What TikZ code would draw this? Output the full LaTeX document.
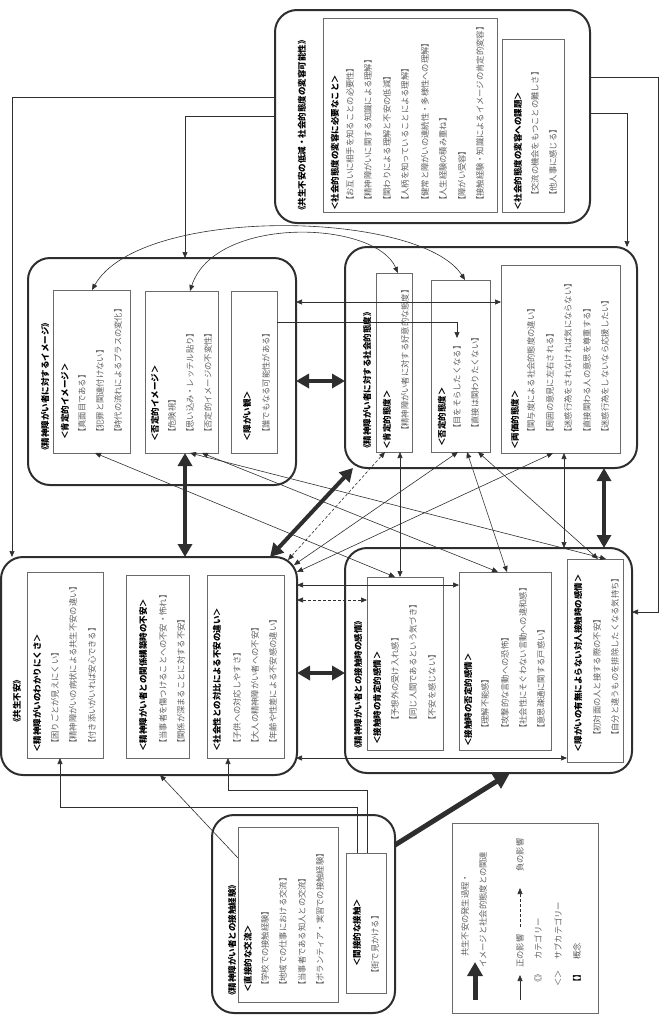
\documentclass[tikz,border=0pt]{standalone}
\usepackage{fontspec}
\setmainfont{Noto Sans CJK JP}
\usetikzlibrary{arrows.meta}
\definecolor{ink}{HTML}{2E2E2E}
\definecolor{txtg}{HTML}{5E5E5E}
\definecolor{ibd}{HTML}{6A6A6A}
\newcommand\mkbox[6]{\node[#1,minimum width={(#4)-(#2)},minimum height={(#5)-(#3)}] (#6) at ({((#2)+(#4))/2},{((#3)+(#5))/2}) {};}
\begin{document}
\begin{tikzpicture}[x=1pt,y=-1pt,
 obox/.style={draw=ink,line width=2pt,rounded corners=22pt,inner sep=0pt,outer sep=0pt},
 ibox/.style={draw=ibd,line width=0.8pt,inner sep=0pt,outer sep=0pt},
 ttl/.style={rotate=90,anchor=west,inner sep=0pt,font=\bfseries\fontsize{8.5}{10}\selectfont,text=black},
 subt/.style={ttl},
 conc/.style={rotate=90,anchor=west,inner sep=0pt,font=\fontsize{8.3}{10}\selectfont,text=txtg},
 ln/.style={draw=ink,line width=0.6pt},
 la/.style={-{Triangle[length=6pt,width=5pt]}},
 lb/.style={{Triangle[length=6pt,width=5pt]}-{Triangle[length=6pt,width=5pt]}},
 thk/.style={draw=ink,line width=4pt,{Triangle[length=13pt,width=14pt]}-{Triangle[length=13pt,width=14pt]}},
 thk1/.style={draw=ink,line width=5pt,-{Triangle[length=16pt,width=16pt]}}]
\useasboundingbox (0,0) rectangle (664,1031);

% ---------- outer boxes
\mkbox{obox}{275}{10}{590}{223}{A}
\mkbox{obox}{345}{247}{637}{468}{B}
\mkbox{obox}{28}{258}{296}{485}{C}
\mkbox{obox}{1}{557}{297}{775}{D}
\mkbox{obox}{345}{548}{632}{773}{E}
\mkbox{obox}{212}{815}{395}{1013}{F}
% ---------- inner boxes
\mkbox{ibox}{323}{18}{497}{212}{A1}
\mkbox{ibox}{502}{39}{564}{212}{A2}
\mkbox{ibox}{376}{273}{412}{452}{B1}
\mkbox{ibox}{431}{280}{490}{452}{B2}
\mkbox{ibox}{501}{265}{620}{453}{B3}
\mkbox{ibox}{53}{290}{130}{453}{C1}
\mkbox{ibox}{145}{291}{218}{453}{C2}
\mkbox{ibox}{231}{291}{277}{453}{C3}
\mkbox{ibox}{27}{572}{103}{758}{D1}
\mkbox{ibox}{126}{575}{189}{758}{D2}
\mkbox{ibox}{207}{575}{284}{758}{D3}
\mkbox{ibox}{367}{577}{443}{750}{E1}
\mkbox{ibox}{459}{572}{551}{750}{E2}
\mkbox{ibox}{567}{559}{623}{762}{E3}
\mkbox{ibox}{238}{827}{338}{1002}{F1}
\mkbox{ibox}{346}{853}{386}{993}{F2}
\mkbox{ibox}{452}{823}{598}{1013}{LG}

% ---------- texts A
\node[ttl] (At) at (302,215) {《共生不安の低減・社会的態度の変容可能性》};
\node[subt] (A1s) at (335,211) {＜社会的態度の変容に必要なこと＞};
\foreach \x/\t [count=\i] in {350/【お互いに相手を知ることの必要性】,368/【精神障がいに関する知識による理解】,387/【関わりによる理解と不安の低減】,405/【人柄を知っていることによる理解】,425/【健常と障がいの連続性・多様性への理解】,443/【人生経験の積み重ね】,462/【障がい受容】,480/【接触経験・知識によるイメージの肯定的変容】}
  \node[conc] (A1c\i) at (\x,205) {\t};
\node[subt] (A2s) at (518,211) {＜社会的態度の変容への課題＞};
\foreach \x/\t [count=\i] in {535/【交流の機会をもつことの難しさ】,553/【他人事に感じる】}
  \node[conc] (A2c\i) at (\x,200) {\t};

% ---------- texts B
\node[ttl] (Bt) at (367,453) {《精神障がい者に対する社会的態度》};
\node[subt] (B1s) at (387,450) {＜肯定的態度＞};
\node[conc] (B1c1) at (405,435) {【精神障がい者に対する好意的な態度】};
\node[subt] (B2s) at (442,447) {＜否定的態度＞};
\foreach \x/\t [count=\i] in {457/【目をそらしたくなる】,475/【直接は関わりたくない】}
  \node[conc] (B2c\i) at (\x,433) {\t};
\node[subt] (B3s) at (515,450) {＜両価的態度＞};
\foreach \x/\t [count=\i] in {531/【関与度による社会的態度の違い】,550/【周囲の意見に左右される】,568/【迷惑行為をされなければ気にならない】,587/【直接関わる人の意思を尊重する】,605/【迷惑行為をしないなら応援したい】}
  \node[conc] (B3c\i) at (\x,437) {\t};

% ---------- texts C
\node[ttl] (Ct) at (45,455) {《精神障がい者に対するイメージ》};
\node[subt] (C1s) at (65,440) {＜肯定的イメージ＞};
\foreach \x/\t [count=\i] in {82/【真面目である】,100/【犯罪と関連付けない】,118/【時代の流れによるプラスの変化】}
  \node[conc] (C1c\i) at (\x,437) {\t};
\node[subt] (C2s) at (155,442) {＜否定的イメージ＞};
\foreach \x/\t [count=\i] in {172/【危険視】,190/【思い込み・レッテル貼り】,208/【否定的イメージの不変性】}
  \node[conc] (C2c\i) at (\x,437) {\t};
\node[subt] (C3s) at (247,442) {＜障がい観＞};
\node[conc] (C3c1) at (266,437) {【誰でもなる可能性がある】};

% ---------- texts D
\node[ttl] (Dt) at (17,727) {《共生不安》};
\node[subt] (D1s) at (37,753) {＜精神障がいのわかりにくさ＞};
\foreach \x/\t [count=\i] in {55/【困りごとが見えにくい】,73/【精神障がいの病状による共生不安の違い】,92/【付き添いがいれば安心できる】}
  \node[conc] (D1c\i) at (\x,748) {\t};
\node[subt] (D2s) at (143,752) {＜精神障がい者との関係構築時の不安＞};
\foreach \x/\t [count=\i] in {163/【当事者を傷つけることへの不安・怖れ】,181/【関係が深まることに対する不安】}
  \node[conc] (D2c\i) at (\x,748) {\t};
\node[subt] (D3s) at (217,752) {＜社会性との対比による不安の違い＞};
\foreach \x/\t [count=\i] in {237/【子供への対応しやすさ】,255/【大人の精神障がい者への不安】,273/【年齢や性差による不安感の違い】}
  \node[conc] (D3c\i) at (\x,748) {\t};

% ---------- texts E
\node[ttl] (Et) at (358,753) {《精神障がい者との接触時の感情》};
\node[subt] (E1s) at (377,745) {＜接触時の肯定的感情＞};
\foreach \x/\t [count=\i] in {395/【予想外の受け入れ感】,413/【同じ人間であるという気づき】,432/【不安を感じない】}
  \node[conc] (E1c\i) at (\x,725) {\t};
\node[subt] (E2s) at (468,747) {＜接触時の否定的感情＞};
\foreach \x/\t [count=\i] in {485/【理解不能感】,505/【攻撃的な言動への恐怖】,523/【社会性にそぐわない言動への違和感】,541/【意思疎通に関する戸惑い】}
  \node[conc] (E2c\i) at (\x,733) {\t};
\node[subt] (E3s) at (578,753) {＜障がいの有無によらない対人接触時の感情＞};
\foreach \x/\t [count=\i] in {597/【初対面の人と接する際の不安】,615/【自分と違うものを排除したくなる気持ち】}
  \node[conc] (E3c\i) at (\x,740) {\t};

% ---------- texts F
\node[ttl] (Ft) at (232,1000) {《精神障がい者との接触経験》};
\node[subt] (F1s) at (248,993) {＜直接的な交流＞};
\foreach \x/\t [count=\i] in {265/【学校での接触経験】,283/【地域での仕事における交流】,302/【当事者である知人との交流】,320/【ボランティア・実習での接触経験】}
  \node[conc] (F1c\i) at (\x,990) {\t};
\node[subt] (F2s) at (357,967) {＜間接的な接触＞};
\node[conc] (F2c1) at (375,978) {【街で見かける】};

% ---------- connectors from A
\draw[ln,la] (A.west |- 0,97) -| (12,0 |- D.north);
\draw[ln,la] (A.west |- 0,116) -| (185,0 |- C.north);
\coordinate (ar) at (658,612);
\draw[ln,la] (A.east |- 0,77) -| (ar) -- (E.east |- ar);
\draw[ln,la] (A.east |- 0,113) -| (627,0 |- B.north);

% ---------- curves C <-> B
\draw[ln,lb] (92,0 |- C1.north) .. controls (140,205) and (420,210) .. (465,0 |- B2.north);
\draw[ln,lb] (190,0 |- C2.north) .. controls (215,215) and (375,220) .. (398,0 |- B1.north);

% ---------- C <-> B
\draw[ln,lb] (C.east |- 0,302) -- (B3.west |- 0,302);
\coordinate (b2in) at (457,338);
\draw[ln,la] (C3.east |- 0,322) -| (b2in);
\draw[thk] (C.east |- 0,381) -- (B.west |- 0,381);
\draw[thk] (185,0 |- C2.south) -- (185,0 |- D.north);

% ---------- D <-> B
\draw[thk] (270,0 |- D.north) -- (353,0 |- B.south);
\coordinate (dk1) at (288,560);
\coordinate (dk2) at (294,565);
\coordinate (dk3) at (297,572);
\draw[ln,lb,dash pattern=on 3pt off 2pt] (dk1) -- (385,0 |- B1.south);
\draw[ln,lb] (dk2) -- (458,0 |- B2.south);
\draw[ln,lb] (dk3) -- (553,0 |- B3.south);

% ---------- C <-> E
\draw[ln,lb] (95,0 |- C1.south) -- (395,0 |- E1.north);
\draw[ln,lb] (190,0 |- C2.south) -- (606,0 |- E3.north);
\draw[ln,lb] (202,0 |- C2.south) -- (498,0 |- E2.north);

% ---------- B <-> E
\draw[ln,lb] (400,0 |- B1.south) -- (400,0 |- E1.north);
\draw[ln,lb] (467,0 |- B2.south) -- (507,0 |- E2.north);
\draw[ln,lb] (478,0 |- B2.south) -- (598,0 |- E3.north);
\draw[ln,lb] (564,0 |- B3.south) -- (564,0 |- E.north);
\draw[thk] (604,0 |- B.south) -- (604,0 |- E.north);

% ---------- D <-> E
\draw[ln,lb] (D.east |- 0,585) -- (E2.west |- 0,585);
\draw[ln,lb,dash pattern=on 3pt off 2pt] (D.east |- 0,600) -- (E1.west |- 0,600);
\draw[thk] (D.east |- 0,673) -- (E.west |- 0,673);
\draw[ln,lb] (296,0 |- 0,758) -- (E3.west |- 0,758);

% ---------- from F
\coordinate (f1) at (367,790);
\coordinate (f2) at (228,790);
\draw[ln,la] (367,0 |- F2.north) -- (f1) -- (f2) -- (228,0 |- D3.south);
\coordinate (f3) at (357,807);
\coordinate (f4) at (60,807);
\draw[ln,la] (357,0 |- F2.north) -- (f3) -- (f4) -- (60,0 |- D1.south);
\draw[ln,la] (F1.west |- 0,858) -- (160,0 |- D.south);
\draw[thk1] (F.east |- 0,845) -- (510,0 |- E.south);

% ---------- legend
\coordinate (lg1a) at (475,1000);
\coordinate (lg1b) at (475,962);
\draw[draw=ink,line width=5pt,-{Triangle[length=14pt,width=15pt]}] (lg1a) -- (lg1b);
\node[conc] (lgt1) at (465,957) {共生不安の発生過程・};
\node[conc] (lgt2) at (483,968) {イメージと社会的態度との関連};
\coordinate (lg2a) at (520,1000);
\coordinate (lg2b) at (520,975);
\draw[ln,la] (lg2a) -- (lg2b);
\node[conc] (lgt3) at (520,968) {正の影響};
\coordinate (lg3a) at (520,927);
\coordinate (lg3b) at (520,888);
\draw[ln,la,dash pattern=on 3pt off 2pt] (lg3a) -- (lg3b);
\node[conc] (lgt4) at (520,872) {負の影響};
\node[conc] (lgt5) at (538,987) {《》};
\node[conc] (lgt6) at (538,960) {カテゴリー};
\node[conc] (lgt7) at (558,987) {＜＞};
\node[conc] (lgt8) at (558,960) {サブカテゴリー};
\node[conc,font=\bfseries\fontsize{8.3}{10}\selectfont,text=black] (lgt9) at (577,987) {【】};
\node[conc] (lgt10) at (577,960) {概念};
\end{tikzpicture}
\end{document}
